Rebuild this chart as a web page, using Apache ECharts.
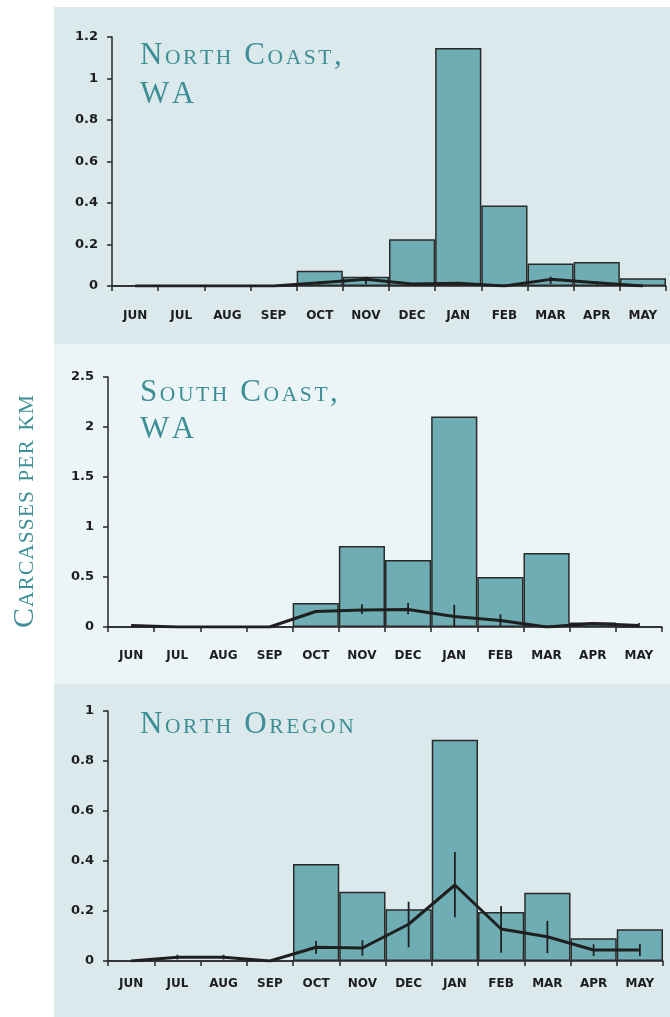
<!DOCTYPE html>
<html>
<head>
<meta charset="utf-8">
<script src="https://cdn.jsdelivr.net/npm/echarts@6/dist/echarts.min.js"></script>
<style>
  html, body { margin: 0; padding: 0; background: #ffffff; }
  #chart { width: 670px; height: 1017px; }
</style>
</head>
<body>
<div id="chart"></div>
<script>
// Months of the survey year
const months = ['JUN', 'JUL', 'AUG', 'SEP', 'OCT', 'NOV', 'DEC', 'JAN', 'FEB', 'MAR', 'APR', 'MAY'];

// North Coast, WA
const ncBars = [0, 0, 0, 0, 0.074, 0.045, 0.225, 1.147, 0.388, 0.108, 0.116, 0.037];
const ncMean = [0, 0, 0, 0, 0.016, 0.032, 0.01, 0.013, 0, 0.032, 0.016, 0];
const ncLow  = [null, null, null, null, 0.008, 0.01, null, 0.006, null, 0.01, 0.008, null];
const ncHigh = [null, null, null, null, 0.024, 0.045, null, 0.02, null, 0.045, 0.024, null];

// South Coast, WA
const scBars = [0, 0, 0, 0, 0.24, 0.81, 0.67, 2.105, 0.50, 0.74, 0.045, 0];
const scMean = [0.015, 0, 0, 0, 0.155, 0.17, 0.175, 0.105, 0.065, 0, 0.035, 0.015];
const scLow  = [null, null, null, null, null, 0.13, 0.127, 0, 0.01, null, null, 0];
const scHigh = [null, null, null, null, null, 0.227, 0.24, 0.223, 0.127, null, null, 0.04];

// North Oregon
const noBars = [0, 0, 0, 0, 0.388, 0.277, 0.207, 0.885, 0.196, 0.273, 0.091, 0.127];
const noMean = [0, 0.015, 0.015, 0, 0.055, 0.052, 0.147, 0.304, 0.128, 0.097, 0.044, 0.044];
const noLow  = [null, 0.006, 0.006, null, 0.028, 0.021, 0.055, 0.175, 0.033, 0.031, 0.02, 0.019];
const noHigh = [null, 0.025, 0.025, null, 0.08, 0.083, 0.237, 0.436, 0.22, 0.161, 0.067, 0.068];

// Y axis tick settings
const yMax = [1.2, 2.5, 1];
const yStep = [0.2, 0.5, 0.2];

const TEAL = '#3d8f96';
const INK = '#1e1e1e';
const BAR = '#6fadb5';
const SERIF = '"Liberation Serif", "Times New Roman", serif';
const SANS = '"DejaVu Sans", sans-serif';

// Build a small-caps rich string: capitals at full size, lower case as small capitals
function smallCaps(str, big, small, gap, lift) {
  const rich = {
    B: { fontFamily: SERIF, fontSize: big, fill: TEAL, lineHeight: big, verticalAlign: 'bottom', padding: [0, gap, 0, 0] },
    S: { fontFamily: SERIF, fontSize: small, fill: TEAL, lineHeight: small, verticalAlign: 'bottom', padding: [0, gap, lift, 0] }
  };
  let text = '';
  for (const ch of str) {
    if (ch !== ch.toUpperCase()) text += '{S|' + ch.toUpperCase() + '}';
    else text += '{B|' + ch + '}';
  }
  return { text, rich };
}

function titleText(str, x, y) {
  const sc = smallCaps(str, 31, 21.5, 2.6, 1.4);
  return {
    type: 'text', x: x, y: y, silent: true, z: 10,
    style: { text: sc.text, rich: sc.rich, fill: TEAL, align: 'left', verticalAlign: 'bottom' }
  };
}

function errData(lo, hi) {
  const out = [];
  lo.forEach((v, i) => { if (v !== null) out.push([i, v, hi[i]]); });
  return out;
}

const grids = [
  { left: 112, top: 37, width: 554, height: 249 },
  { left: 108, top: 377, width: 554, height: 250 },
  { left: 108, top: 711, width: 555, height: 250 }
];
const labelMargins = [24, 23, 17];
const panels = [
  { bars: ncBars, mean: ncMean, lo: ncLow, hi: ncHigh },
  { bars: scBars, mean: scMean, lo: scLow, hi: scHigh },
  { bars: noBars, mean: noMean, lo: noLow, hi: noHigh }
];

const axisLineStyle = { color: '#262626', width: 1.5 };

const xAxis = grids.map((g, i) => ({
  type: 'category', gridIndex: i, data: months, boundaryGap: true,
  axisLine: { show: true, lineStyle: axisLineStyle },
  axisTick: { show: true, length: 5, interval: 0, lineStyle: axisLineStyle },
  axisLabel: { interval: 0, margin: labelMargins[i], fontFamily: SANS, fontWeight: 'bold', fontSize: 12, color: INK },
  splitLine: { show: false }
}));

const yAxis = grids.map((g, i) => ({
  type: 'value', gridIndex: i, min: 0, max: yMax[i], interval: yStep[i],
  axisLine: { show: true, lineStyle: axisLineStyle },
  axisTick: { show: true, length: 5, lineStyle: axisLineStyle },
  axisLabel: { margin: 14, fontFamily: SANS, fontWeight: 'bold', fontSize: 13, color: INK },
  splitLine: { show: false }
}));

const series = [];
panels.forEach((p, i) => {
  series.push({
    type: 'bar', xAxisIndex: i, yAxisIndex: i, data: p.bars,
    barWidth: '100%', barGap: '0%', z: 2,
    itemStyle: { color: BAR, borderColor: '#2a2a2a', borderWidth: 1.5 },
    emphasis: { disabled: true }
  });
  series.push({
    type: 'line', xAxisIndex: i, yAxisIndex: i, data: p.mean,
    symbol: 'none', z: 4,
    lineStyle: { color: '#1f1f1f', width: 3 },
    emphasis: { disabled: true }
  });
  series.push({
    type: 'custom', xAxisIndex: i, yAxisIndex: i, data: errData(p.lo, p.hi),
    encode: { x: 0, y: [1, 2] }, z: 5,
    renderItem: (params, api) => {
      const a = api.coord([api.value(0), api.value(1)]);
      const b = api.coord([api.value(0), api.value(2)]);
      return {
        type: 'line',
        shape: { x1: a[0], y1: a[1], x2: b[0], y2: b[1] },
        style: { stroke: '#1f1f1f', lineWidth: 1.8 }
      };
    }
  });
});

// Panel backgrounds and headings
const axisName = smallCaps('Carcasses per km', 30, 21.5, 1, 1.4);
const graphic = [
  { type: 'rect', z: -100, silent: true, shape: { x: 54, y: 7, width: 616, height: 337 }, style: { fill: '#dbe9ec' } },
  { type: 'rect', z: -100, silent: true, shape: { x: 54, y: 344, width: 616, height: 340 }, style: { fill: '#ebf4f6' } },
  { type: 'rect', z: -100, silent: true, shape: { x: 54, y: 684, width: 616, height: 333 }, style: { fill: '#dbe9ec' } },
  titleText('North Coast,', 140, 71),
  titleText('WA', 140, 110),
  titleText('South Coast,', 140, 408),
  titleText('WA', 140, 445),
  titleText('North Oregon', 140, 740),
  {
    type: 'text', x: 40, y: 511, rotation: Math.PI / 2, silent: true, z: 10,
    style: { text: axisName.text, rich: axisName.rich, fill: TEAL, align: 'center', verticalAlign: 'bottom' }
  }
];

const chart = echarts.init(document.getElementById('chart'), null, { renderer: 'canvas' });
chart.setOption({
  animation: false,
  backgroundColor: '#ffffff',
  grid: grids,
  xAxis: xAxis,
  yAxis: yAxis,
  series: series,
  graphic: graphic
});
</script>
</body>
</html>
